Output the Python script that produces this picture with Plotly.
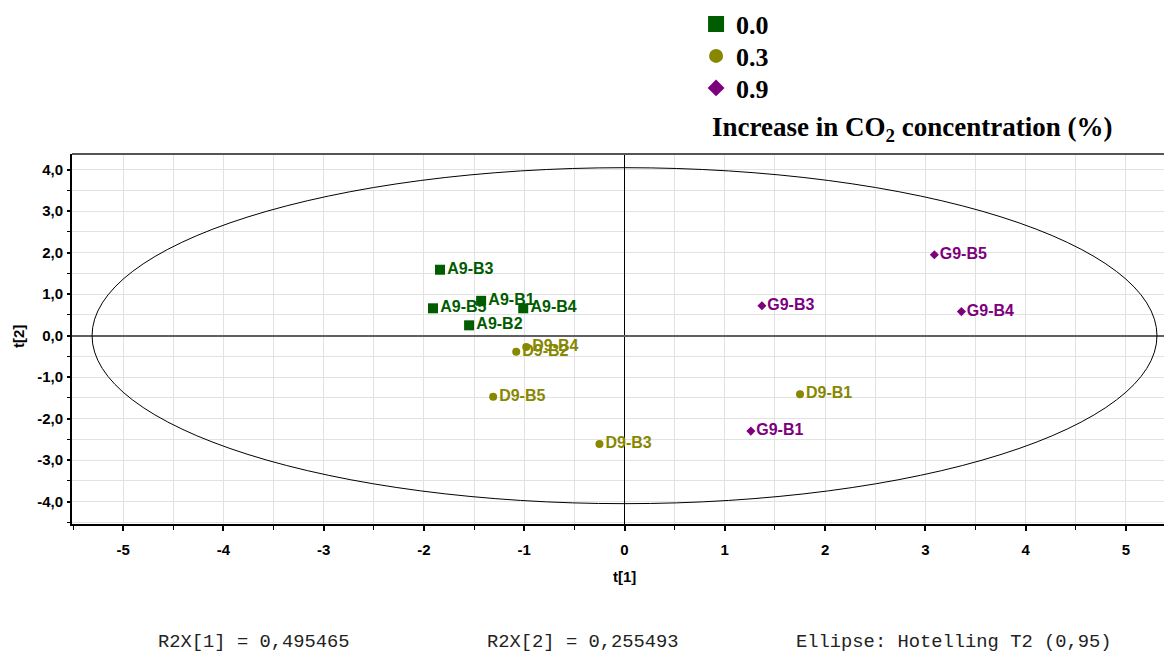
import plotly.graph_objects as go

# Score values t[1], t[2] per sample, grouped by CO2 increase level
group_labels = ["0.0", "0.3", "0.9"]

a_names = ["A9-B1", "A9-B2", "A9-B3", "A9-B4", "A9-B5"]
a_t1 = [-1.43, -1.55, -1.84, -1.01, -1.91]
a_t2 = [0.84, 0.25, 1.59, 0.66, 0.66]

d_names = ["D9-B1", "D9-B2", "D9-B3", "D9-B4", "D9-B5"]
d_t1 = [1.75, -1.08, -0.25, -0.98, -1.31]
d_t2 = [-1.41, -0.39, -2.61, -0.27, -1.47]

g_names = ["G9-B1", "G9-B3", "G9-B4", "G9-B5"]
g_t1 = [1.26, 1.37, 3.36, 3.09]
g_t2 = [-2.30, 0.72, 0.58, 1.95]

x_tick_vals = [-5, -4, -3, -2, -1, 0, 1, 2, 3, 4, 5]
x_tick_labels = ["-5", "-4", "-3", "-2", "-1", "0", "1", "2", "3", "4", "5"]
y_tick_vals = [-4, -3, -2, -1, 0, 1, 2, 3, 4]
y_tick_labels = ["-4,0", "-3,0", "-2,0", "-1,0", "0,0", "1,0", "2,0", "3,0", "4,0"]

# Hotelling T2 (0.95) ellipse semi-axes
ellipse_t1 = 5.31
ellipse_t2 = 4.05

r2x = ["R2X[1] = 0,495465", "R2X[2] = 0,255493", "Ellipse: Hotelling T2 (0,95)"]

GREEN = "#005c00"
OLIVE = "#878700"
PURPLE = "#7d007d"

fig = go.Figure()

series = [
    (a_names, a_t1, a_t2, GREEN, "square", 10, group_labels[0], 16, "legend"),
    (d_names, d_t1, d_t2, OLIVE, "circle", 8, group_labels[1], 14, "legend2"),
    (g_names, g_t1, g_t2, PURPLE, "diamond", 7, group_labels[2], 13, "legend3"),
]

for names, t1, t2, color, symbol, size, label, leg_size, leg in series:
    fig.add_trace(go.Scatter(
        x=t1, y=t2, text=names, mode="markers+text",
        textposition="middle right",
        marker=dict(symbol=symbol, size=size, color=color, line=dict(width=0)),
        textfont=dict(family="Liberation Sans", size=16, color=color, weight="bold"),
        showlegend=False, hoverinfo="text",
    ))

# one single-entry legend per group so the rows can sit at exact heights
for names, t1, t2, color, symbol, size, label, leg_size, leg in series:
    fig.add_trace(go.Scatter(
        x=[None], y=[None], mode="markers", name=label, legend=leg,
        marker=dict(symbol=symbol, size=leg_size, color=color, line=dict(width=0)),
        showlegend=True,
    ))

grid_color = "#e2e2e2"

def legend_box(row_y):
    return dict(
        xref="container", yref="container", x=0.598, y=1 - row_y / 653,
        xanchor="left", yanchor="middle",
        font=dict(family="Liberation Serif", size=26, color="black", weight="bold"),
        bgcolor="rgba(0,0,0,0)", borderwidth=0, itemsizing="trace",
    )

fig.update_layout(
    width=1164, height=653,
    margin=dict(l=72, r=0, t=154, b=129, autoexpand=False),
    paper_bgcolor="white", plot_bgcolor="white",
    showlegend=True,
    legend=legend_box(24),
    legend2=legend_box(56),
    legend3=legend_box(88),
    xaxis=dict(
        range=[-5.51, 5.38], tickmode="array", tickvals=x_tick_vals, ticktext=x_tick_labels,
        showgrid=True, gridcolor=grid_color, gridwidth=1,
        ticks="outside", ticklen=5, tickwidth=1.5, tickcolor="black",
        minor=dict(tickmode="linear", tick0=0, dtick=0.5, ticks="outside", ticklen=4,
                   tickwidth=1, tickcolor="black", showgrid=True, gridcolor=grid_color),
        showline=True, linecolor="black", linewidth=2,
        zeroline=True, zerolinecolor="black", zerolinewidth=1.2,
        tickfont=dict(family="Liberation Sans", size=15, color="black", weight="bold"),
        ticklabelstandoff=6,
    ),
    yaxis=dict(
        range=[-4.54, 4.38], tickmode="array", tickvals=y_tick_vals, ticktext=y_tick_labels,
        showgrid=True, gridcolor=grid_color, gridwidth=1,
        ticks="outside", ticklen=3, tickwidth=1.5, tickcolor="black",
        minor=dict(tickmode="linear", tick0=0, dtick=0.5, ticks="outside", ticklen=3,
                   tickwidth=1, tickcolor="black", showgrid=True, gridcolor=grid_color),
        showline=True, linecolor="black", linewidth=2,
        zeroline=True, zerolinecolor="#606060", zerolinewidth=2,
        tickfont=dict(family="Liberation Sans", size=15, color="black", weight="bold"),
        ticklabelstandoff=1,
    ),
    shapes=[
        dict(type="circle", xref="x", yref="y",
             x0=-ellipse_t1, x1=ellipse_t1, y0=-ellipse_t2, y1=ellipse_t2,
             line=dict(color="black", width=1)),
        dict(type="line", xref="paper", yref="paper", x0=0, x1=1, y0=1, y1=1,
             line=dict(color="#555555", width=2)),
    ],
)

annotations = [
    dict(text="<b>Increase in CO<sub>2</sub> concentration (%)</b>", xref="paper", yref="paper",
         x=0.584, y=1.068, xanchor="left", yanchor="middle", showarrow=False,
         font=dict(family="Liberation Serif", size=27, color="black")),
    dict(text="<b>t[1]</b>", xref="paper", yref="paper", x=0.5058, y=-0.143,
         xanchor="center", yanchor="middle", showarrow=False,
         font=dict(family="Liberation Sans", size=15, color="black")),
    dict(text="<b>t[2]</b>", xref="paper", yref="paper", x=-0.0495, y=0.508, textangle=-90,
         xanchor="center", yanchor="middle", showarrow=False,
         font=dict(family="Liberation Sans", size=15, color="black")),
]
for txt, xp in zip(r2x, [0.0769, 0.378, 0.661]):
    annotations.append(dict(text=txt, xref="paper", yref="paper", x=xp, y=-0.318,
                            xanchor="left", yanchor="middle", showarrow=False,
                            font=dict(family="Liberation Mono", size=18.8, color="#222222")))
fig.update_layout(annotations=annotations)

fig.write_html("out.html")
